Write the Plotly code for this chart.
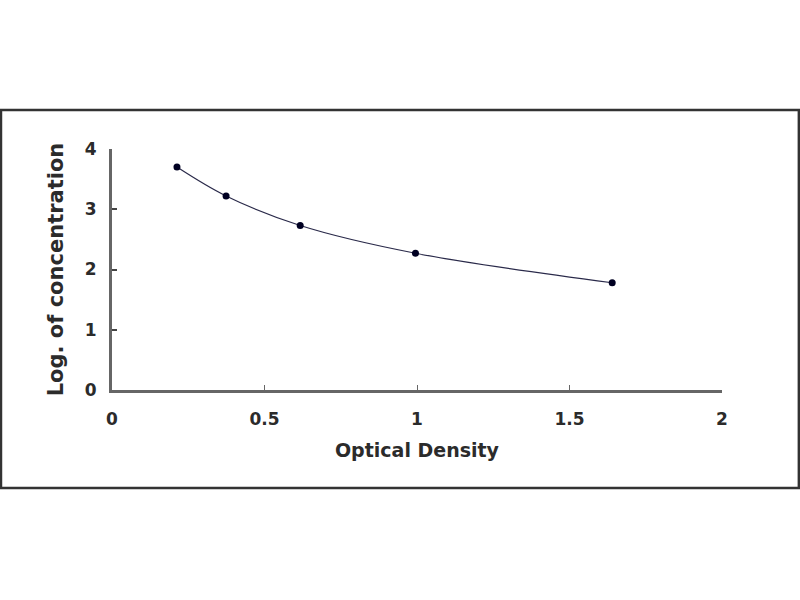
import plotly.graph_objects as go

od = [0.213, 0.374, 0.617, 0.995, 1.64]
log_conc = [3.70, 3.22, 2.73, 2.27, 1.78]
x_ticks = [0, 0.5, 1, 1.5, 2]
x_labels = ["0", "0.5", "1", "1.5", "2"]
y_ticks = [0, 1, 2, 3, 4]

FAM = "DejaVu Sans, Liberation Sans, Arial, sans-serif"
TXT = "#2b2b2b"

fig = go.Figure()
fig.add_trace(go.Scatter(
    x=od, y=log_conc, mode="lines+markers",
    line=dict(color="#2a2a4a", width=1.2, shape="spline", smoothing=1.0),
    marker=dict(color="#000022", size=7),
    showlegend=False,
))

fig.update_layout(
    width=800, height=600,
    paper_bgcolor="white", plot_bgcolor="white",
    margin=dict(l=112, r=78, t=149, b=210),
    font=dict(family=FAM, size=15, color=TXT),
    xaxis=dict(
        range=[0, 2], tickvals=x_ticks, ticktext=x_labels,
        showgrid=False, zeroline=False,
        showline=True, linecolor="#666666", linewidth=3,
        ticks="inside", ticklen=5, tickcolor="#666666", tickwidth=1,
        ticklabelstandoff=12,
        tickfont=dict(family=FAM, size=17, color=TXT, weight="bold"),
        title=dict(text="Optical Density", standoff=16,
                   font=dict(family=FAM, size=19, color=TXT, weight="bold")),
    ),
    yaxis=dict(
        range=[0, 4], tickvals=y_ticks,
        showgrid=False, zeroline=False,
        showline=True, linecolor="#666666", linewidth=3,
        ticks="inside", ticklen=5, tickcolor="#444444", tickwidth=2,
        ticklabelstandoff=9,
        tickfont=dict(family=FAM, size=17, color=TXT, weight="bold"),
        title=dict(text="Log. of concentration", standoff=16,
                   font=dict(family=FAM, size=21, color=TXT, weight="bold")),
    ),
    shapes=[dict(
        type="rect", xref="paper", yref="paper",
        x0=-0.182, x1=1.126, y0=-0.4066, y1=1.162,
        line=dict(color="#333333", width=2.5), fillcolor="rgba(0,0,0,0)",
    )],
)

fig.write_html("out.html", config={"displayModeBar": False},
               post_script="document.body.style.margin='0';")
